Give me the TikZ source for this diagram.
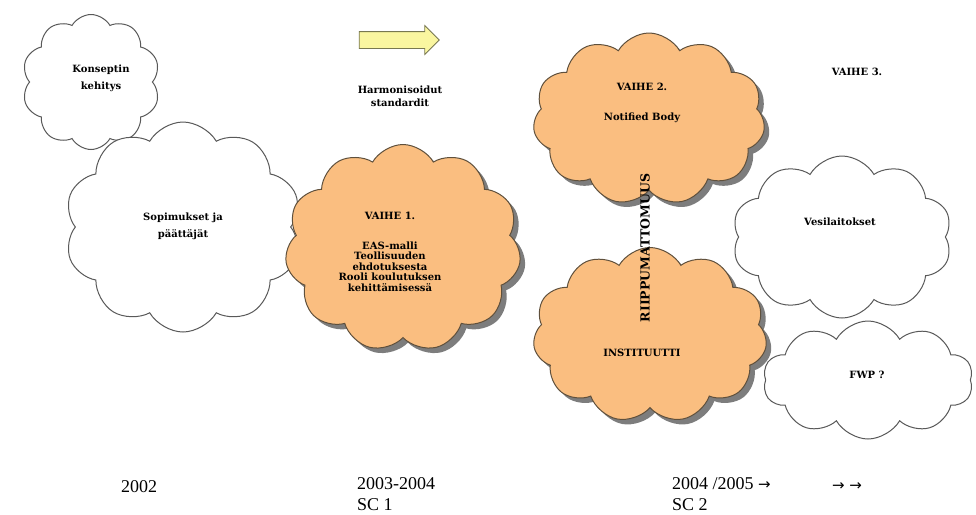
\documentclass[tikz,border=0pt]{standalone}
\usepackage{fontspec}
\setmainfont{Liberation Serif}
\newfontfamily\cloudfont{DejaVu Serif}
\newfontfamily\arrowfont{DejaVu Sans}
\usetikzlibrary{shapes.symbols,shapes.arrows,shadows}
\definecolor{puff}{RGB}{250,190,128}
\definecolor{puffline}{RGB}{95,80,60}
\definecolor{arrowfill}{RGB}{250,246,160}
\definecolor{arrowline}{RGB}{120,120,80}

\begin{document}
\begin{tikzpicture}[x=1pt,y=-1pt,
  whitecloud/.style={cloud, cloud puffs=10, cloud puff arc=120, cloud ignores aspect,
    draw=black!65, line width=1pt, fill=white, inner sep=0pt},
  orangecloud/.style={whitecloud, cloud puffs=11, draw=puffline, fill=puff,
    drop shadow={shadow xshift=5pt, shadow yshift=-5pt, fill=black!60, opacity=.85}},
  ctext/.style={font=\cloudfont\bfseries\fontsize{10}{17}\selectfont, align=center, inner sep=0pt},
  year/.style={font=\fontsize{18}{21}\selectfont, align=left, anchor=north west, inner sep=0pt}]
\useasboundingbox (0,0) rectangle (976,514);

% white clouds on the left
\node[whitecloud, minimum width=138pt, minimum height=135pt] (concept) at (91,82) {};
\node[whitecloud, minimum width=237pt, minimum height=210pt] (deals) at (183,227) {};
\node[ctext] (concepttext) at (101,78) {Konseptin\\kehitys};
\node[ctext] (dealstext) at (183,226) {Sopimukset ja\\päättäjät};

% arrow and standards
\node[single arrow, draw=arrowline, fill=arrowfill, line width=.8pt,
  minimum height=80pt, minimum width=28pt, single arrow head extend=6pt,
  single arrow tip angle=90, inner xsep=0pt, inner ysep=8pt] (harmarrow) at (395,40) {};
\node[ctext, font=\cloudfont\bfseries\fontsize{10}{13}\selectfont] (harmtext) at (400,96) {Harmonisoidut\\standardit};

% white clouds on the right
\node[whitecloud, minimum width=220pt, minimum height=162pt] (water) at (842,237) {};
\node[whitecloud, minimum width=210pt, minimum height=118pt] (fwp) at (868,380) {};
\node[ctext] (watertext) at (840,222) {Vesilaitokset};
\node[ctext] (fwptext) at (867,375) {FWP ?};
\node[ctext] (phase3) at (857,72) {VAIHE 3.};

% orange clouds
\node[orangecloud, minimum width=236pt, minimum height=207pt] (phase1) at (403,248) {};
\node[orangecloud, minimum width=232pt, minimum height=172pt] (phase2) at (649,119) {};
\node[orangecloud, minimum width=234pt, minimum height=175pt] (inst) at (650,335) {};
\node[ctext, font=\cloudfont\bfseries\fontsize{10}{10.5}\selectfont] (phase1text) at (390,252)
  {VAIHE 1.\\[19pt]EAS-malli\\Teollisuuden\\ehdotuksesta\\Rooli koulutuksen\\kehittämisessä};
\node[ctext, font=\cloudfont\bfseries\fontsize{10}{30}\selectfont] (phase2text) at (642,103) {VAIHE 2.\\Notified Body};
\node[ctext] (insttext) at (642,353) {INSTITUUTTI};
\node[ctext, font=\cloudfont\bfseries\fontsize{12.5}{14}\selectfont, rotate=90] (indep) at (645,248) {RIIPPUMATTOMUUS};

% timeline
\node[year, anchor=center] (y2002) at (139,487) {2002};
\node[year] (y2003) at (357,477) {2003-2004\\SC 1};
\node[year] (y2004) at (672,477) {2004 /2005 {\arrowfont\fontsize{15}{21}\selectfont →}\\SC 2};
\node[year, anchor=center] (later) at (847,487) {\arrowfont\fontsize{15}{21}\selectfont → →};
\end{tikzpicture}
\end{document}
